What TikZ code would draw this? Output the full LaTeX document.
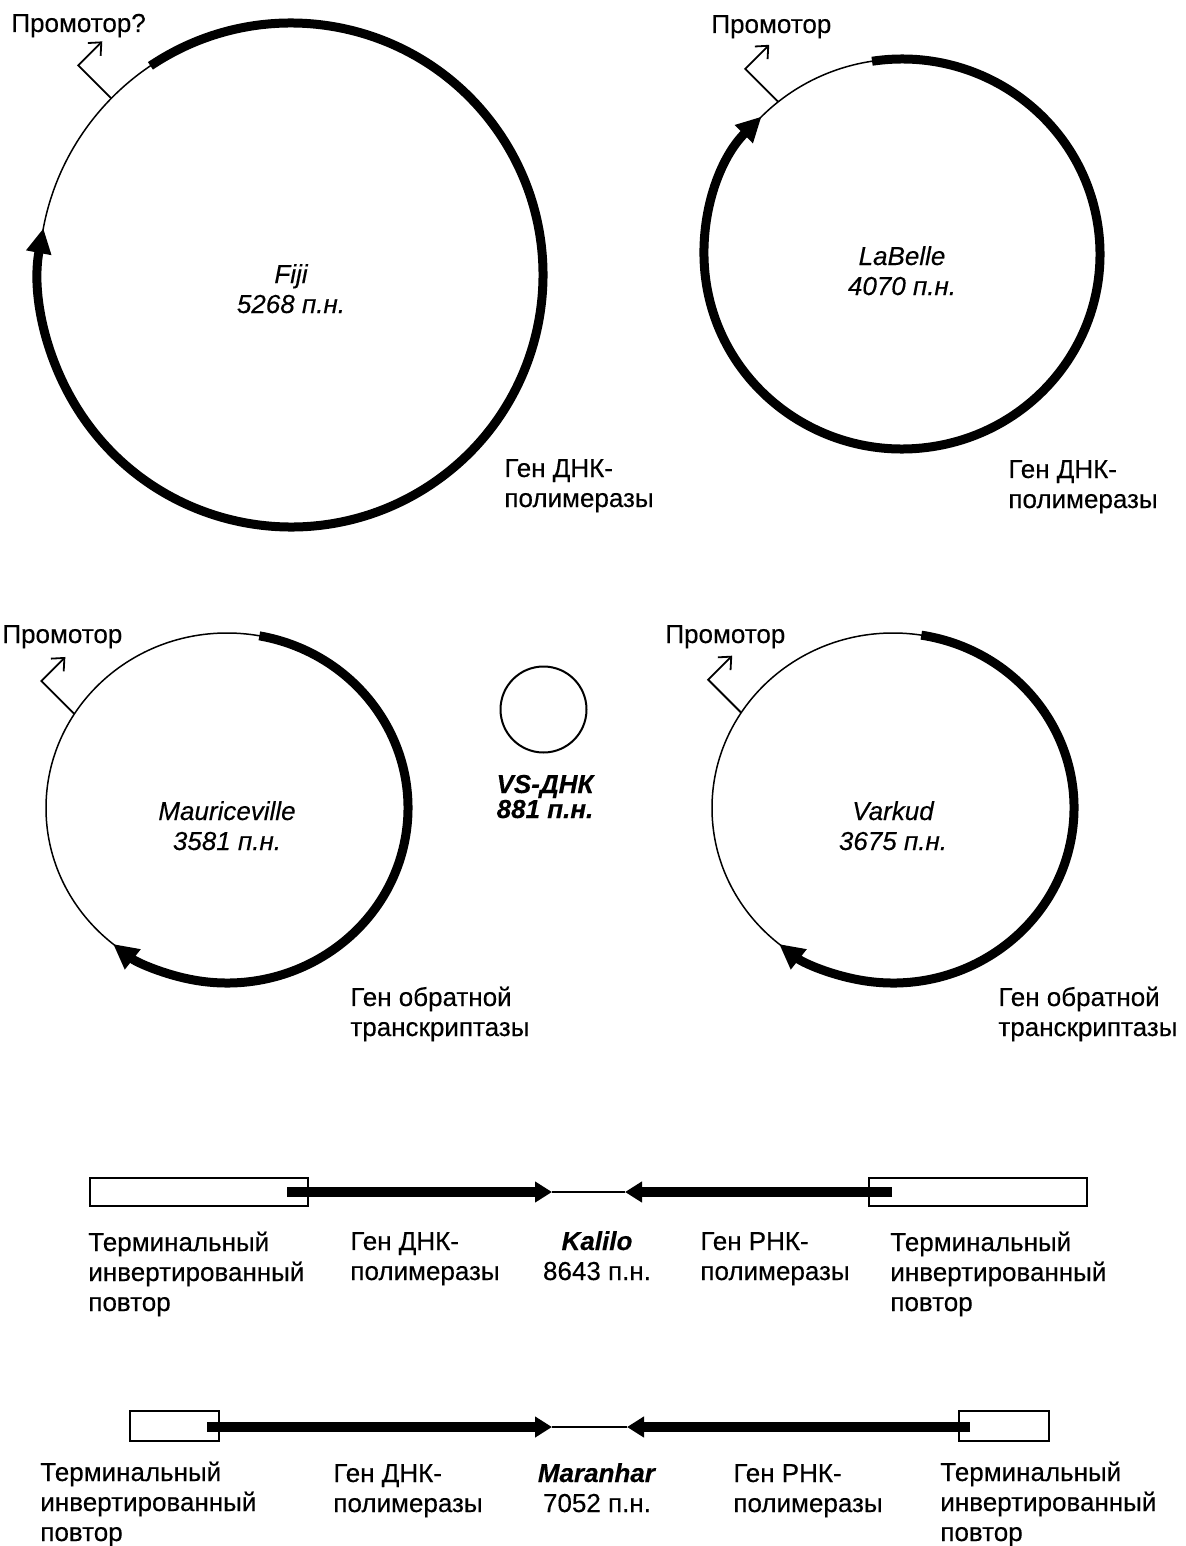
\documentclass[tikz,border=0pt]{standalone}
\usepackage{fontspec}
\setmainfont{Liberation Sans}[FakeBold=0.3]
\usetikzlibrary{arrows.meta}
\begin{document}
\begin{tikzpicture}[
x=0.5pt,y=0.5pt,
every node/.style={inner sep=0pt,font=\fontsize{13}{15}\selectfont},
dna/.style={draw,line width=0.75pt},
gene/.style={draw,line width=4.5pt,-{Triangle[length=12.5pt,width=12pt]}},
lingene/.style={draw,line width=5pt,-{Triangle[length=8.5pt,width=10pt]}},
promo/.style={draw,line width=0.9pt,-{Straight Barb[length=5pt,width=9pt]}},
tir/.style={draw,line width=0.8pt},
lbl/.style={align=left,anchor=base west},
title/.style={align=center,anchor=base,font=\fontsize{13}{15}\selectfont\itshape},
]
\useasboundingbox (0,0) rectangle (1186,-1546);
% Fiji
\path[dna] (291,-275) circle[radius=252];
\path[gene] (291,-275) ++(123.9:252) arc[start angle=123.9,end angle=-190.7,radius=252];
\path (291,-275) ++(135.5:252) coordinate (fijip);
\path[promo] (fijip) -- ++(-33,33) -- ++(24,24);
\node[lbl] (fijiprom) at (11,-32) {Промотор?};
\node[title] (fiji) at (291,-313) {Fiji\\5268 п.н.};
\node[lbl] (fijigene) at (504,-507) {Ген ДНК-\\полимеразы};
% LaBelle
\path[dna] (902,-254) ellipse[x radius=198,y radius=195];
\path[gene] (902,-254) ++(98.7:198 and 195) arc[start angle=98.7,end angle=-224.8,x radius=198,y radius=195];
\path (902,-254) ++(128.7:198 and 195) coordinate (labellep);
\path[promo] (labellep) -- ++(-33,33) -- ++(24,24);
\node[lbl] (labelleprom) at (711,-33) {Промотор};
\node[title] (labelle) at (902,-295) {LaBelle\\4070 п.н.};
\node[lbl] (labellegene) at (1008,-508) {Ген ДНК-\\полимеразы};
% Mauriceville
\path[dna] (227,-808) ellipse[x radius=181,y radius=175];
\path[gene] (227,-808) ++(79.7:181 and 175) arc[start angle=79.7,end angle=-129,x radius=181,y radius=175];
\path (227,-808) ++(147.5:181 and 175) coordinate (maurp);
\path[promo] (maurp) -- ++(-33,33) -- ++(24,24);
\node[lbl] (maurprom) at (2,-643) {Промотор};
\node[title] (maur) at (227,-850) {Mauriceville\\3581 п.н.};
\node[lbl] (maurgene) at (350,-1036) {Ген обратной\\транскриптазы};
% VS
\path[draw,line width=1pt] (543.5,-709.5) circle[radius=43];
\node[title,font=\fontsize{13}{12.5}\selectfont\bfseries\itshape] (vs) at (545,-818) {VS-ДНК\\881 п.н.};
% Varkud
\path[dna] (893,-808) ellipse[x radius=181,y radius=175];
\path[gene] (893,-808) ++(81:181 and 175) arc[start angle=81,end angle=-129,x radius=181,y radius=175];
\path (893,-808) ++(147:181 and 175) coordinate (varkp);
\path[promo] (varkp) -- ++(-33,33) -- ++(24,24);
\node[lbl] (varkprom) at (665,-643) {Промотор};
\node[title] (vark) at (893,-850) {Varkud\\3675 п.н.};
\node[lbl] (varkgene) at (998,-1036) {Ген обратной\\транскриптазы};
% Kalilo
\path[tir]
    (90,-1178) rectangle (308,-1206)
    (869,-1178) rectangle (1087,-1206);
\path[dna] (552,-1192) -- (625,-1192);
\path[lingene] (287,-1192) -- (552,-1192);
\path[lingene] (892,-1192) -- (625,-1192);
\node[lbl] (kaltir1) at (88,-1311) {Терминальный\\инвертированный\\повтор};
\node[lbl] (kaldna) at (350,-1280) {Ген ДНК-\\полимеразы};
\node[title,font=\fontsize{13}{15}\selectfont] (kal) at (597,-1280) {\textbf{\textit{Kalilo}}\\8643 п.н.};
\node[lbl] (kalrna) at (700,-1280) {Ген РНК-\\полимеразы};
\node[lbl] (kaltir2) at (890,-1311) {Терминальный\\инвертированный\\повтор};
% Maranhar
\path[tir]
    (130,-1411) rectangle (219,-1441)
    (959,-1411) rectangle (1049,-1441);
\path[dna] (552,-1427) -- (627,-1427);
\path[lingene] (207,-1427) -- (552,-1427);
\path[lingene] (970,-1427) -- (627,-1427);
\node[lbl] (martir1) at (40,-1541) {Терминальный\\инвертированный\\повтор};
\node[lbl] (mardna) at (333,-1512) {Ген ДНК-\\полимеразы};
\node[title,font=\fontsize{13}{15}\selectfont] (mar) at (597,-1512) {\textbf{\textit{Maranhar}}\\7052 п.н.};
\node[lbl] (marrna) at (733,-1512) {Ген РНК-\\полимеразы};
\node[lbl] (martir2) at (940,-1541) {Терминальный\\инвертированный\\повтор};
\end{tikzpicture}
\end{document}
